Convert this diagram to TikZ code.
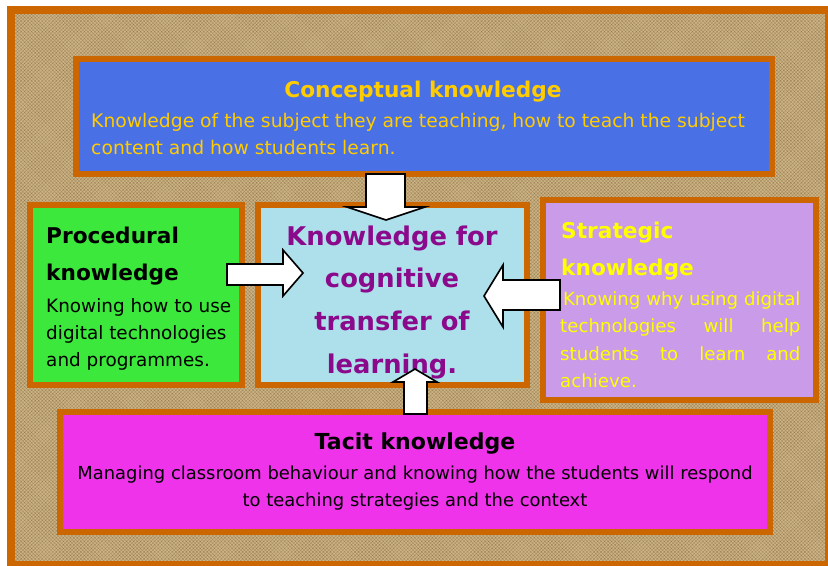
\documentclass[tikz,border=0pt]{standalone}
\usepackage{fontspec}
\setmainfont{DejaVu Sans}
\usetikzlibrary{fit,patterns}

\newcommand{\fullline}[1]{\hbox to 205pt{#1}}

\begin{document}
\begin{tikzpicture}[x=0.03cm, y=-0.03cm,
    panel/.style={draw=frameColour, line width=5pt, inner sep=0pt},
    heading/.style={inner sep=0pt, font=\fontsize{18.5}{31.6}\selectfont\bfseries},
    body/.style={inner sep=0pt, font=\fontsize{15.5}{23}\selectfont},
    blockArrow/.style={fill=white, draw=black, line width=1.4pt, line join=miter}]
    \definecolor{frameColour}{HTML}{CC6600}
    \definecolor{burlapColour}{HTML}{CDB484}
    \definecolor{weaveColour}{HTML}{6B5028}
    \definecolor{conceptColour}{HTML}{4A70E6}
    \definecolor{procColour}{HTML}{3BE83B}
    \definecolor{coreColour}{HTML}{ADE0EA}
    \definecolor{stratColour}{HTML}{C99BE8}
    \definecolor{tacitColour}{HTML}{EE33EA}
    \definecolor{goldText}{HTML}{FFCC00}
    \definecolor{yellowText}{HTML}{FFFF00}
    \definecolor{purpleText}{HTML}{8B0A8B}

    \useasboundingbox (0,0) rectangle (828,566);
    \clip (0,0) rectangle (828,566);
    \fill[white] (0,0) rectangle (828,566);

    % Draw burlap background and outer frame
    \fill[burlapColour] (11,10) rectangle (829,565);
    \fill[pattern=crosshatch, pattern color=weaveColour, opacity=0.35] (11,10) rectangle (829,565);
    \draw[frameColour, line width=6.8pt] (11,10) rectangle (829,565);

    % Panels
    \node[panel, fill=conceptColour, fit={(76,59) (772,174)}] (concept) {};
    \node[panel, fill=procColour, fit={(30,205) (242,385)}] (procedural) {};
    \node[panel, fill=coreColour, fit={(258,205) (527,385)}] (core) {};
    \node[panel, fill=stratColour, fit={(543,200) (816,400)}] (strategic) {};
    \node[panel, fill=tacitColour, fit={(60,412) (770,532)}] (tacit) {};

    % Conceptual knowledge
    \node[heading, text=goldText, anchor=north] (conceptTitle) at (423,80.5) {Conceptual knowledge};
    \node[body, font=\fontsize{16}{23}\selectfont, text=goldText, anchor=north west, align=left]
        (conceptText) at (91,112.8)
        {Knowledge of the subject they are teaching, how to teach the subject\\content and how students learn.};

    % Procedural knowledge
    \node[heading, anchor=north west, align=left] (procTitle) at (46,226.5) {Procedural\\knowledge};
    \node[body, font=\fontsize{15.7}{23}\selectfont, anchor=north west, align=left] (procText) at (46,298)
        {Knowing how to use\\digital technologies\\and programmes.};

    % Knowledge for cognitive transfer
    \node[inner sep=0pt, font=\fontsize{22}{36.4}\selectfont\bfseries, text=purpleText, anchor=north, align=center]
        (coreText) at (392,225.4) {Knowledge for\\cognitive\\transfer of\\learning.};

    % Strategic knowledge
    \node[heading, text=yellowText, anchor=north west, align=left] (stratTitle) at (561,221.5) {Strategic\\knowledge};
    \node[body, font=\fontsize{15.5}{23.6}\selectfont, text=yellowText, anchor=north west, align=left]
        (stratText) at (560,291)
        {\fullline{\hfill Knowing why using digital}\\
         \fullline{technologies\hfill will\hfill help}\\
         \fullline{students\hfill to\hfill learn\hfill and}\\
         achieve.};

    % Tacit knowledge
    \node[heading, font=\fontsize{18.8}{31.6}\selectfont\bfseries, anchor=north] (tacitTitle) at (415,433) {Tacit knowledge};
    \node[body, font=\fontsize{15.3}{23}\selectfont, anchor=north, align=center] (tacitText) at (415,466)
        {Managing classroom behaviour and knowing how the students will respond\\to teaching strategies and the context};

    % Block arrows into the core panel
    \filldraw[blockArrow] (366,174) -- (405,174) -- (405,207) -- (425,207) -- (386,220) -- (347,207) -- (366,207) -- cycle;
    \filldraw[blockArrow] (227,264) -- (283,264) -- (283,250) -- (303,273) -- (283,296) -- (283,285) -- (227,285) -- cycle;
    \filldraw[blockArrow] (560,280) -- (503,280) -- (503,265) -- (484,296) -- (503,327) -- (503,310) -- (560,310) -- cycle;
    \filldraw[blockArrow] (404,414) -- (404,382) -- (393,382) -- (415,369) -- (437,382) -- (427,382) -- (427,414) -- cycle;

\end{tikzpicture}
\end{document}
